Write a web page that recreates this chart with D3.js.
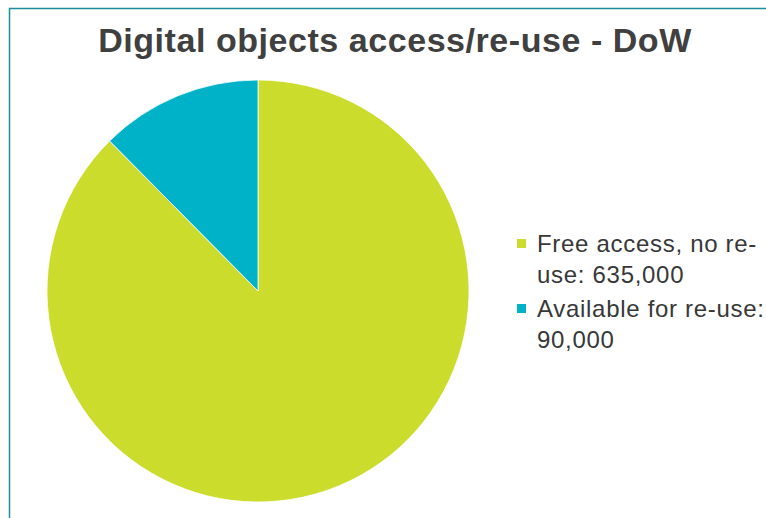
<!DOCTYPE html>
<html>
<head>
<meta charset="utf-8">
<script src="https://cdn.jsdelivr.net/npm/d3@7"></script>
<style>
  html, body { margin: 0; padding: 0; background: #fff; }
  svg { display: block; }
</style>
</head>
<body>
<svg id="chart" width="766" height="518"></svg>
<script>
const title = "Digital objects access/re-use - DoW";
const categories = ["Free access, no re-use", "Available for re-use"];
const values = [635000, 90000];
const colors = ["#cbdc2c", "#00b2c8"];
const legendLines = [["Free access, no re-", "use: 635,000"], ["Available for re-use:", "90,000"]];

const svg = d3.select("#chart");
const W = 766, H = 518;
const font = "'Liberation Sans', Arial, sans-serif";

// outer frame (top and left edges visible)
svg.append("rect")
  .attr("x", 9.5).attr("y", 8.5)
  .attr("width", W + 20).attr("height", H + 20)
  .attr("fill", "#fff")
  .attr("stroke", "#1b8e9c").attr("stroke-width", 1.5);

svg.append("text")
  .attr("x", 395).attr("y", 52)
  .attr("text-anchor", "middle")
  .attr("font-family", font)
  .attr("font-weight", "bold")
  .attr("font-size", 34)
  .attr("letter-spacing", 0.55)
  .attr("fill", "#404040")
  .text(title);

const cx = 258, cy = 291, r = 211;
const data = categories.map((c, i) => ({ name: c, value: values[i], color: colors[i] }));
const pie = d3.pie().value(d => d.value).sort(null);
const arc = d3.arc().innerRadius(0).outerRadius(r);

const g = svg.append("g").attr("transform", `translate(${cx},${cy})`);
g.selectAll("path")
  .data(pie(data))
  .join("path")
  .attr("d", arc)
  .attr("fill", d => d.data.color)
  .attr("stroke", "#ffffff")
  .attr("stroke-width", 0.8);

// legend
const leg = svg.append("g");
const itemTop = [252, 317];
data.forEach((d, i) => {
  const gi = leg.append("g");
  gi.append("rect")
    .attr("x", 517).attr("y", itemTop[i] - 13)
    .attr("width", 9).attr("height", 9)
    .attr("fill", d.color);
  legendLines[i].forEach((line, j) => {
    gi.append("text")
      .attr("x", 537).attr("y", itemTop[i] + j * 31)
      .attr("font-family", font)
      .attr("font-size", 24)
      .attr("letter-spacing", 0.7)
      .attr("fill", "#383838")
      .text(line);
  });
});
</script>
</body>
</html>
